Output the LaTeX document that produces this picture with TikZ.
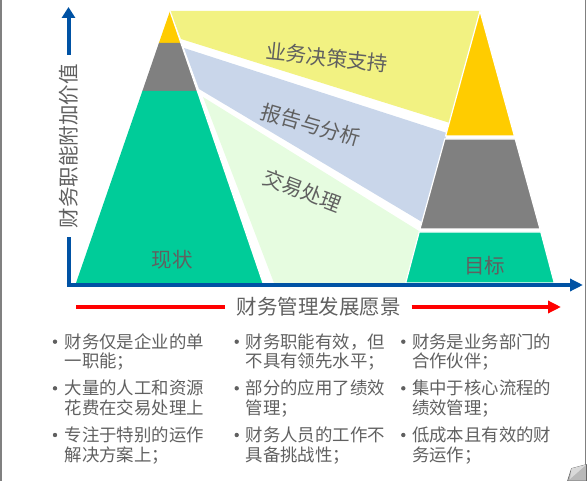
\documentclass[tikz,border=0pt]{standalone}
\usepackage{fontspec}
\setmainfont{Noto Sans CJK SC}
\usetikzlibrary{arrows.meta}
\definecolor{axisblue}{RGB}{0,82,164}
\definecolor{bandyellow}{RGB}{242,242,130}
\definecolor{bandblue}{RGB}{201,214,234}
\definecolor{bandgreen}{RGB}{230,252,224}
\definecolor{triyellow}{RGB}{255,204,0}
\definecolor{trigray}{RGB}{128,128,128}
\definecolor{trigreen}{RGB}{0,204,153}
\definecolor{txtgray}{RGB}{96,96,96}
\definecolor{redline}{RGB}{255,0,0}
\begin{document}
\begin{tikzpicture}[x=1pt,y=-1pt,
  lbl/.style={inner sep=0pt, text=txtgray, font=\fontsize{20.5}{24}\selectfont},
  bl/.style={anchor=west, inner sep=0pt, text=txtgray, font=\fontsize{17.4}{20}\selectfont},
  dotb/.style={fill=txtgray},
  axisline/.style={draw=axisblue, line width=4pt},
  redarrow/.style={draw=redline, line width=4pt},
  tripiece/.style={draw=white, line width=1.2pt}]
\useasboundingbox (0,0) rectangle (587,481);
% frame
\draw[gray, line width=1.5pt] (0.75,0) -- (0.75,481);
\draw[gray, line width=1.5pt] (585.7,0) -- (585.7,466);
\filldraw[fill=gray!55, draw=gray!80!black, line width=0.6pt] (567.5,481) -- (571.5,468.5) -- (586.5,464.5) -- (586.5,481) -- cycle;
\fill[gray!30] (571.5,468.5) -- (586.5,464.5) -- (570,479) -- cycle;
% bands
\fill[bandyellow] (170,11) -- (481,11) -- (450,123) -- (181,39) -- cycle;
\fill[bandblue] (184,48) -- (447,133) -- (422,222) -- (199,89) -- cycle;
\fill[bandgreen] (203,97) -- (419,231) -- (406,283) -- (274,283) -- cycle;
% left triangle
\fill[triyellow] (170,11) -- (180.9,43) -- (158.9,43) -- cycle;
\fill[trigray] (158.9,43) -- (180.9,43) -- (197.4,91) -- (142.4,91) -- cycle;
\fill[trigreen] (142.4,91) -- (197.4,91) -- (263,283) -- (76,283) -- cycle;
\draw[white, line width=1.2pt] (170,11) -- (263,283);
% right triangle
\filldraw[tripiece, fill=triyellow] (480,11) -- (514.4,136) -- (445.6,136) -- cycle;
\filldraw[tripiece, fill=trigray] (444.8,139) -- (515.2,139) -- (540,229) -- (420,229) -- cycle;
\filldraw[tripiece, fill=trigreen] (419.2,232) -- (540.8,232) -- (554.3,283) -- (405.7,283) -- cycle;
% band labels
\node[lbl, rotate=-6] (l1) at (327,57.5) {业务决策支持};
\node[lbl, rotate=-16] (l2) at (311,125) {报告与分析};
\node[lbl, rotate=-21] (l3) at (302.5,190.5) {交易处理};
\node[lbl] (now) at (172,260) {现状};
\node[lbl] (goal) at (484.5,265.5) {目标};
% axes
\coordinate (O) at (68.5,285);
\coordinate (ytip) at (68.5,7);
\coordinate (xstart) at (66.5,285);
\coordinate (xtip) at (583,285);
\draw[axisline, -{Triangle[length=11pt,width=13pt]}] (O) -- (ytip);
\draw[axisblue, line width=3.5pt, -{Triangle[length=13pt,width=12pt]}] (xstart) -- (xtip);
\node[lbl, rotate=90, fill=white, inner xsep=9pt, inner ysep=2pt] (ylab) at (69,146.5) {财务职能附加价值};
% x title with red arrow
\node[lbl, inner xsep=11pt] (title) at (318.5,307) {财务管理发展愿景};
\coordinate (rl) at (76,307);
\coordinate (rr) at (561,307);
\draw[redarrow] (rl) -- (title.west);
\draw[redarrow, -{Triangle[length=13pt,width=12pt]}] (title.east) -- (rr);
% bullets column 1
\fill[dotb] (55,341.7) circle[radius=2.2];
\node[bl] (a1) at (64.5,341.7) {财务仅是企业的单};
\node[bl] (a1b) at (64.5,361.7) {一职能；};
\fill[dotb] (55,388.3) circle[radius=2.2];
\node[bl] (a2) at (64.5,388.3) {大量的人工和资源};
\node[bl] (a2b) at (64.5,408.3) {花费在交易处理上};
\fill[dotb] (55,435) circle[radius=2.2];
\node[bl] (a3) at (64.5,435) {专注于特别的运作};
\node[bl] (a3b) at (64.5,455.5) {解决方案上；};
% column 2
\fill[dotb] (236.7,341.7) circle[radius=2.2];
\node[bl] (b1) at (245.5,341.7) {财务职能有效，但};
\node[bl] (b1b) at (245.5,361.7) {不具有领先水平；};
\fill[dotb] (236.7,388.3) circle[radius=2.2];
\node[bl] (b2) at (245.5,388.3) {部分的应用了绩效};
\node[bl] (b2b) at (245.5,408.3) {管理；};
\fill[dotb] (236.7,435) circle[radius=2.2];
\node[bl] (b3) at (245.5,435) {财务人员的工作不};
\node[bl] (b3b) at (245.5,455.5) {具备挑战性；};
% column 3
\fill[dotb] (403.3,341.7) circle[radius=2.2];
\node[bl] (c1) at (411.8,341.7) {财务是业务部门的};
\node[bl] (c1b) at (411.8,361.7) {合作伙伴；};
\fill[dotb] (403.3,388.3) circle[radius=2.2];
\node[bl] (c2) at (411.8,388.3) {集中于核心流程的};
\node[bl] (c2b) at (411.8,408.3) {绩效管理；};
\fill[dotb] (403.3,435) circle[radius=2.2];
\node[bl] (c3) at (411.8,435) {低成本且有效的财};
\node[bl] (c3b) at (411.8,455.5) {务运作；};
\end{tikzpicture}
\end{document}
